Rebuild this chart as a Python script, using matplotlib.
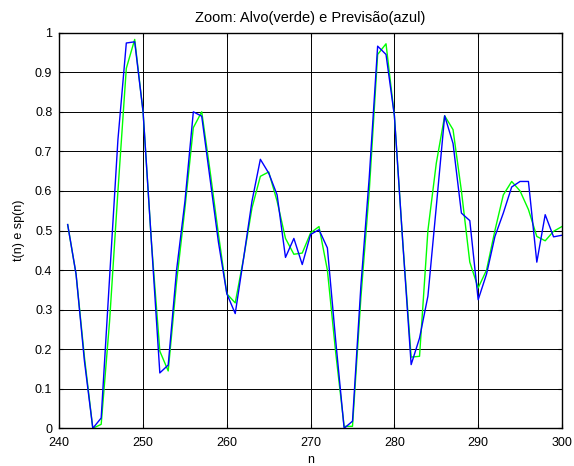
import matplotlib
matplotlib.use('Agg')
import matplotlib.pyplot as plt

plt.rcParams['font.family'] = ['Liberation Sans', 'DejaVu Sans']

n = list(range(241, 301))

# alvo (verde)
alvo = [0.515, 0.39, 0.18, 0.0, 0.01, 0.27, 0.60, 0.91, 0.983, 0.80,
        0.47, 0.195, 0.145, 0.37, 0.557, 0.76, 0.80, 0.65, 0.49, 0.34,
        0.317, 0.43, 0.557, 0.637, 0.648, 0.574, 0.48, 0.44, 0.443, 0.494,
        0.51, 0.40, 0.19, 0.005, 0.005, 0.33, 0.60, 0.945, 0.972, 0.79,
        0.47, 0.18, 0.182, 0.50, 0.67, 0.79, 0.755, 0.60, 0.42, 0.355,
        0.40, 0.50, 0.59, 0.624, 0.60, 0.553, 0.485, 0.474, 0.498, 0.51]

# previsao (azul)
previsao = [0.515, 0.39, 0.17, 0.0, 0.026, 0.38, 0.73, 0.974, 0.977, 0.80,
            0.47, 0.14, 0.16, 0.40, 0.574, 0.80, 0.789, 0.63, 0.47, 0.34,
            0.29, 0.43, 0.574, 0.68, 0.645, 0.59, 0.432, 0.48, 0.414, 0.49,
            0.502, 0.456, 0.22, 0.0, 0.018, 0.36, 0.635, 0.966, 0.945, 0.79,
            0.47, 0.161, 0.228, 0.334, 0.56, 0.79, 0.72, 0.544, 0.525, 0.325,
            0.39, 0.485, 0.544, 0.61, 0.624, 0.624, 0.42, 0.54, 0.484, 0.488]

fig = plt.figure(figsize=(5.74, 4.66), dpi=100)
ax = fig.add_axes([0.1033, 0.0809, 0.8757, 0.8489])

ax.plot(n, alvo, color='#00ff00', linewidth=1.0)
ax.plot(n, previsao, color='#0000ff', linewidth=1.0)

ax.set_xlim(240, 300)
ax.set_ylim(0, 1)
ax.set_xticks(range(240, 301, 10))
ax.set_yticks([i / 10 for i in range(11)])
ax.set_yticklabels(['0', '0.1', '0.2', '0.3', '0.4', '0.5', '0.6', '0.7', '0.8', '0.9', '1'])
ax.grid(True, color='black', linestyle='-', linewidth=0.7)
ax.tick_params(direction='in', top=True, right=True, labelsize=9, length=3)
ax.tick_params(axis='x', pad=6)
ax.tick_params(axis='y', pad=5)
for s in ax.spines.values():
    s.set_linewidth(1.0)

ax.set_title('Zoom: Alvo(verde) e Previsão(azul)', fontsize=10.5, pad=8)
ax.set_xlabel('n', fontsize=9, labelpad=4)
ax.set_ylabel('t(n) e sp(n)', fontsize=9, labelpad=7)

fig.savefig('out.png', dpi=100)
